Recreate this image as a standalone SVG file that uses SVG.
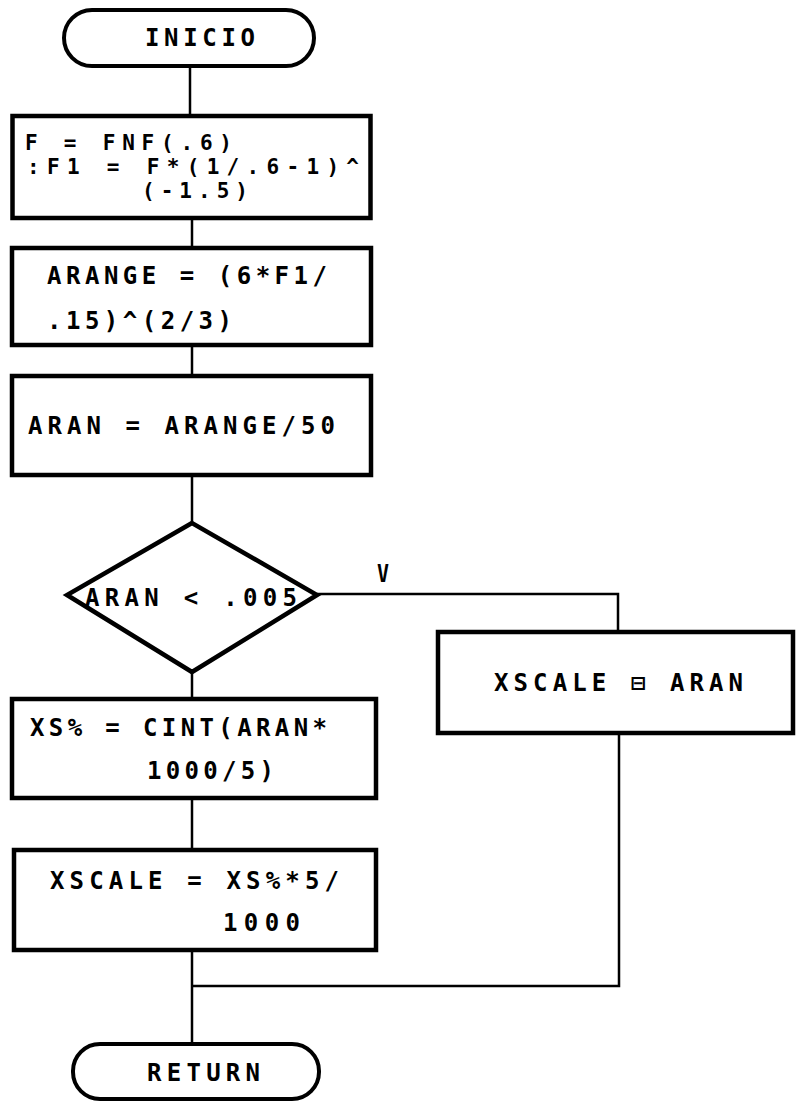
<svg xmlns="http://www.w3.org/2000/svg" width="796" height="1103" viewBox="0 0 796 1103">
<style>
.bg{fill:#fff}
.box{fill:#fff;stroke:#000;stroke-width:4.5}
.term{fill:#fff;stroke:#000;stroke-width:4}
.dec{fill:#fff;stroke:#000;stroke-width:4.5;stroke-linejoin:miter}
.con{fill:none;stroke:#000;stroke-width:2.5}
text{font-family:"DejaVu Sans Mono","Liberation Mono",monospace;font-weight:bold;font-size:24px;fill:#000}
.sm{font-size:21px}
</style>
<rect class="bg" x="0" y="0" width="796" height="1103"/>
<g id="connectors">
<path class="con" d="M190,67 V114"/>
<path class="con" d="M192,220 V246"/>
<path class="con" d="M192,346 V374"/>
<path class="con" d="M192,476 V523"/>
<path class="con" d="M192,672 V697"/>
<path class="con" d="M192,800 V848"/>
<path class="con" d="M192,952 V1042"/>
<path class="con" d="M317,594 H618 V630"/>
<path class="con" d="M619,735 V986 H192"/>
<text x="377" y="582" textLength="12" lengthAdjust="spacingAndGlyphs">V</text>
</g>
<g id="inicio">
<rect class="term" x="64" y="10" width="250" height="56" rx="28" ry="28"/>
<text x="145" y="46" textLength="110" lengthAdjust="spacing">INICIO</text>
</g>
<g id="box1">
<rect class="box" x="12.5" y="116" width="358" height="102"/>
<text class="sm" x="25" y="150" textLength="207" lengthAdjust="spacing">F = FNF(.6)</text>
<text class="sm" x="27" y="174" textLength="332" lengthAdjust="spacing">:F1 = F*(1/.6-1)^</text>
<text class="sm" x="142" y="198" textLength="106" lengthAdjust="spacing">(-1.5)</text>
</g>
<g id="box2">
<rect class="box" x="12" y="248" width="359" height="97"/>
<text x="47" y="284" textLength="280" lengthAdjust="spacing">ARANGE = (6*F1/</text>
<text x="47" y="329" textLength="185" lengthAdjust="spacing">.15)^(2/3)</text>
</g>
<g id="box3">
<rect class="box" x="12" y="376" width="359" height="99"/>
<text x="28" y="434" textLength="307" lengthAdjust="spacing">ARAN = ARANGE/50</text>
</g>
<g id="decision">
<polygon class="dec" points="192,523 67,595 192,672 317,595"/>
<text x="85" y="606" textLength="212" lengthAdjust="spacing">ARAN &lt; .005</text>
</g>
<g id="boxRight">
<rect class="box" x="438" y="632" width="355" height="101"/>
<text x="494" y="691" textLength="249" lengthAdjust="spacing">XSCALE ⊟ ARAN</text>
</g>
<g id="box4">
<rect class="box" x="12" y="699" width="364" height="99"/>
<text x="30" y="736" textLength="297" lengthAdjust="spacing">XS% = CINT(ARAN*</text>
<text x="147" y="779" textLength="127" lengthAdjust="spacing">1000/5)</text>
</g>
<g id="box5">
<rect class="box" x="14" y="850" width="362" height="100"/>
<text x="50" y="889" textLength="289" lengthAdjust="spacing">XSCALE = XS%*5/</text>
<text x="223" y="931" textLength="77" lengthAdjust="spacing">1000</text>
</g>
<g id="return">
<rect class="term" x="73" y="1044" width="246" height="55" rx="27" ry="27"/>
<text x="147" y="1081" textLength="113" lengthAdjust="spacing">RETURN</text>
</g>
</svg>
